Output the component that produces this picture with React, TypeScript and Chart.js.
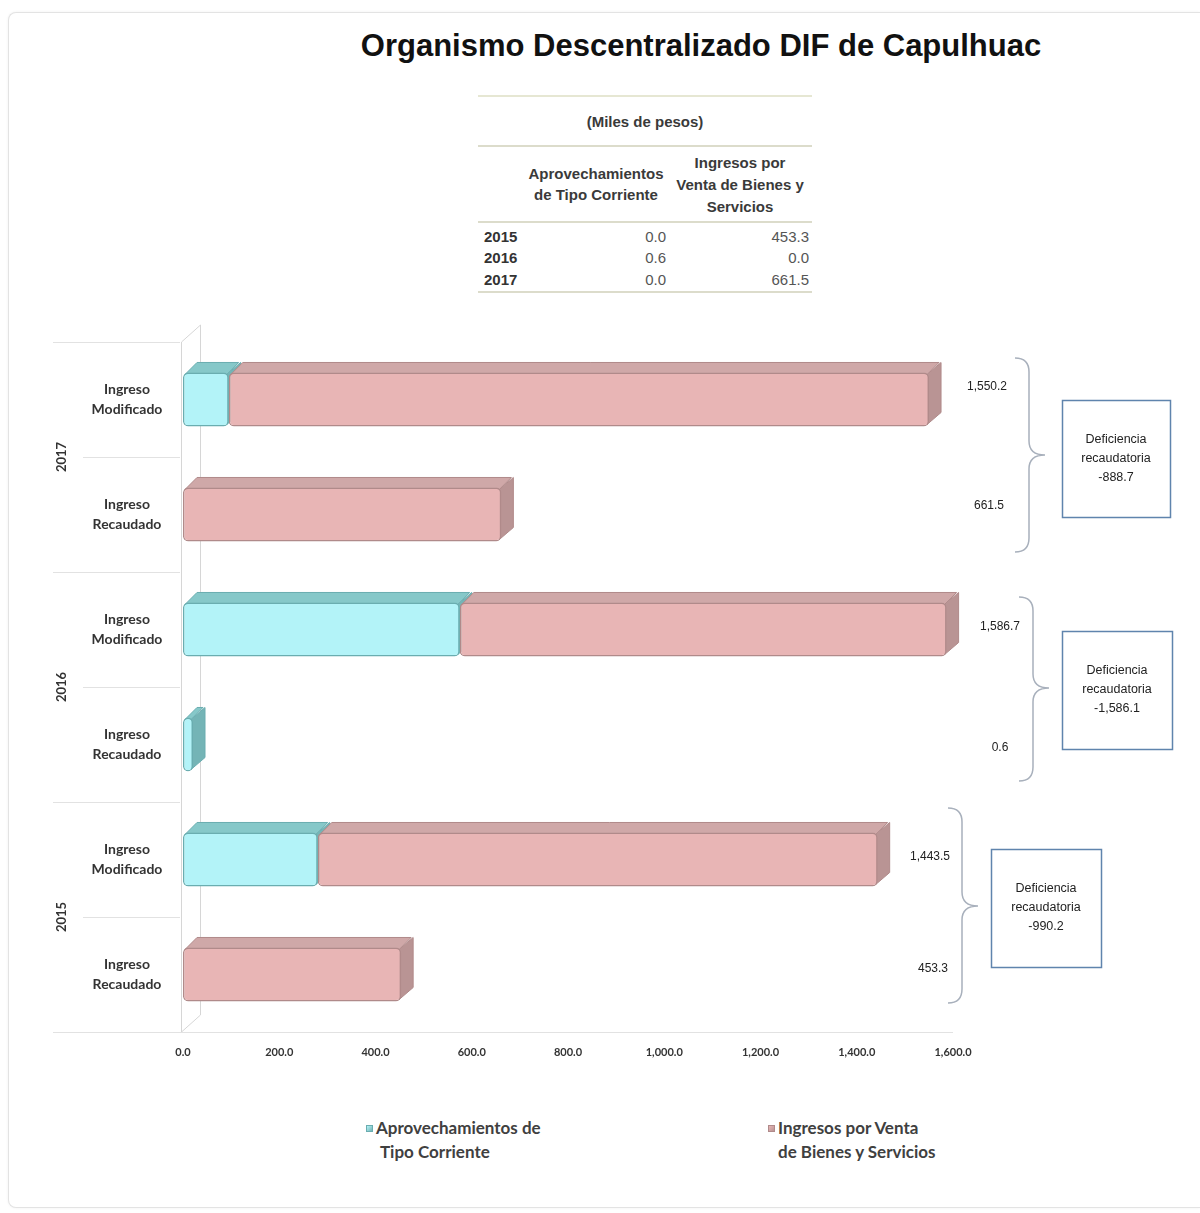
import React, { useEffect, useRef } from "react";
import { Chart, registerables } from "chart.js";
Chart.register(...registerables);

// ---------------- DATA ----------------
const titleText = "Organismo Descentralizado DIF de Capulhuac";
const years = ["2017", "2016", "2015"];
const categories = [
  ["Ingreso", "Modificado"],
  ["Ingreso", "Recaudado"],
  ["Ingreso", "Modificado"],
  ["Ingreso", "Recaudado"],
  ["Ingreso", "Modificado"],
  ["Ingreso", "Recaudado"],
];
const aprovechamientos = [95.0, 0.0, 575.0, 0.6, 280.0, 0.0];
const ingresosVenta = [1455.2, 661.5, 1011.7, 0.0, 1163.5, 453.3];
const xTicks = [0, 200, 400, 600, 800, 1000, 1200, 1400, 1600];
const seriesLabels = ["Aprovechamientos de Tipo Corriente", "Ingresos por Venta de Bienes y Servicios"];
const legendLines = [
  ["Aprovechamientos de", "Tipo Corriente"],
  ["Ingresos por Venta", "de Bienes y Servicios"],
];
const tableUnit = "(Miles de pesos)";
const tableHeaders = [
  ["Aprovechamientos", "de Tipo Corriente"],
  ["Ingresos por", "Venta de Bienes y", "Servicios"],
];
const tableYears = ["2015", "2016", "2017"];
const tableAprov = [0.0, 0.6, 0.0];
const tableIngresos = [453.3, 0.0, 661.5];
const boxTitle = ["Deficiencia", "recaudatoria"];

// ---------------- STYLE / LAYOUT ----------------
const CANVAS_TOP = 300;
const CANVAS_W = 1200;
const CANVAS_H = 800;
const cyan = { front: "#b3f3f8", border: "#6aadb0", top: "#86c8c9", side: "#74b4b6" };
const pink = { front: "#e8b5b5", border: "#b08a8a", top: "#cfa8a8", side: "#b99494" };
const faceColors = [cyan, pink];
const DX = 12;
const DY = 12;
// page positions for total labels (x, y)
const totalLabelPos = [
  [987, 387],
  [989, 506],
  [1000, 627],
  [1000, 748],
  [930, 857],
  [933, 969],
];
const braces = [
  { x: 1015, y0: 358, y1: 552, tip: 455 },
  { x: 1019, y0: 597, y1: 781, tip: 688 },
  { x: 948, y0: 808, y1: 1003, tip: 906 },
];
const boxes = [
  { x: 1062, y: 400, w: 108, h: 117 },
  { x: 1062, y: 631, w: 110, h: 118 },
  { x: 991, y: 849, w: 110, h: 118 },
];

const fmt1 = (v: number) =>
  v.toLocaleString("en-US", { minimumFractionDigits: 1, maximumFractionDigits: 1 });

const decorPlugin = {
  id: "decor",
  beforeDatasetsDraw(chart: any) {
    const ctx = chart.ctx;
    const { left, right, top, bottom } = chart.chartArea;
    const ys = chart.scales.y;
    const n = categories.length;
    const band = (bottom - top) / n;
    ctx.save();
    // 3D wall
    ctx.strokeStyle = "#d6d6d6";
    ctx.lineWidth = 1;
    ctx.beginPath();
    ctx.moveTo(left - 1.5, top);
    ctx.lineTo(left - 1.5, bottom);
    ctx.moveTo(left - 1.5, top);
    ctx.lineTo(left + 17.5, top - 17);
    ctx.lineTo(left + 17.5, bottom - 17);
    ctx.lineTo(left - 1.5, bottom);
    ctx.stroke();
    // category grid lines in label area
    ctx.strokeStyle = "#e2e2e2";
    for (let i = 0; i <= n; i++) {
      const y = Math.round(top + i * band) + 0.5;
      const x0 = i % 2 === 0 ? 53 : 83;
      const x1 = i === n ? right : left - 3;
      ctx.beginPath();
      ctx.moveTo(x0, y);
      ctx.lineTo(x1, y);
      ctx.stroke();
    }
    // category labels
    ctx.fillStyle = "#333333";
    ctx.font = "bold 14px Lato";
    ctx.textAlign = "center";
    ctx.textBaseline = "middle";
    categories.forEach((lab, i) => {
      const yc = ys.getPixelForValue(i);
      ctx.fillText(lab[0], 127, yc - 10);
      ctx.fillText(lab[1], 127, yc + 10);
    });
    // year labels
    ctx.font = "bold 13px Lato";
    years.forEach((yr, g) => {
      const yc = (ys.getPixelForValue(2 * g) + ys.getPixelForValue(2 * g + 1)) / 2;
      ctx.save();
      ctx.translate(62, yc);
      ctx.rotate(-Math.PI / 2);
      ctx.fillText(yr, 0, 0);
      ctx.restore();
    });
    // 3D faces (top + side)
    ctx.lineJoin = "round";
    chart.data.datasets.forEach((ds: any, di: number) => {
      const meta = chart.getDatasetMeta(di);
      const c = faceColors[di];
      meta.data.forEach((el: any, i: number) => {
        if (ds.data[i] == null) return;
        const { x, y, base, height } = el.getProps(["x", "y", "base", "height"], true);
        const t = y - height / 2;
        const b = y + height / 2;
        ctx.strokeStyle = c.border;
        ctx.lineWidth = 1;
        ctx.fillStyle = c.side;
        ctx.beginPath();
        ctx.moveTo(x - 2, t + 2);
        ctx.lineTo(x + DX, t - DY + 2);
        ctx.lineTo(x + DX, b - DY - 2);
        ctx.lineTo(x - 2, b - 2);
        ctx.closePath();
        ctx.fill();
        ctx.stroke();
        ctx.fillStyle = c.top;
        ctx.beginPath();
        ctx.moveTo(base + 2, t + 2);
        ctx.lineTo(x - 2, t + 2);
        ctx.lineTo(x + DX - 2, t - DY + 2);
        ctx.lineTo(base + DX + 2, t - DY + 2);
        ctx.closePath();
        ctx.fill();
        ctx.stroke();
      });
    });
    ctx.restore();
  },
  afterDatasetsDraw(chart: any) {
    const ctx = chart.ctx;
    ctx.save();
    // totals
    ctx.fillStyle = "#222222";
    ctx.font = "12px 'Liberation Sans'";
    ctx.textAlign = "center";
    ctx.textBaseline = "middle";
    const totals = aprovechamientos.map((a, i) => a + ingresosVenta[i]);
    totals.forEach((t, i) => {
      const [px, py] = totalLabelPos[i];
      ctx.fillText(fmt1(t), px, py - CANVAS_TOP);
    });
    // braces
    ctx.strokeStyle = "#a8b0bc";
    ctx.lineWidth = 1.5;
    braces.forEach((br) => {
      const x0 = br.x;
      const y0 = br.y0 - CANVAS_TOP;
      const y1 = br.y1 - CANVAS_TOP;
      const tp = br.tip - CANVAS_TOP;
      const r = 14;
      ctx.beginPath();
      ctx.moveTo(x0, y0);
      ctx.quadraticCurveTo(x0 + r, y0, x0 + r, y0 + r);
      ctx.lineTo(x0 + r, tp - r);
      ctx.quadraticCurveTo(x0 + r, tp, x0 + 2 * r + 2, tp);
      ctx.quadraticCurveTo(x0 + r, tp, x0 + r, tp + r);
      ctx.lineTo(x0 + r, y1 - r);
      ctx.quadraticCurveTo(x0 + r, y1, x0, y1);
      ctx.stroke();
    });
    // boxes
    ctx.strokeStyle = "#5f84ad";
    ctx.lineWidth = 1.5;
    ctx.font = "12.5px 'Liberation Sans'";
    boxes.forEach((bx, g) => {
      const y = bx.y - CANVAS_TOP;
      ctx.strokeRect(bx.x + 0.5, y + 0.5, bx.w, bx.h);
      const diff = totals[2 * g + 1] - totals[2 * g];
      const cx = bx.x + bx.w / 2;
      const cy = y + bx.h / 2;
      ctx.fillStyle = "#222222";
      ctx.fillText(boxTitle[0], cx, cy - 19);
      ctx.fillText(boxTitle[1], cx, cy);
      ctx.fillText(fmt1(diff), cx, cy + 19);
    });
    ctx.restore();
  },
};

function ChartCanvas() {
  const ref = useRef<HTMLCanvasElement | null>(null);
  useEffect(() => {
    if (!ref.current) return;
    const chart = new Chart(ref.current, {
      type: "bar",
      data: {
        labels: categories,
        datasets: [
          {
            label: seriesLabels[0],
            data: aprovechamientos.map((v) => (v === 0 ? null : v)),
            backgroundColor: cyan.front,
            borderColor: cyan.border,
            borderWidth: 1.5,
            borderSkipped: false,
            borderRadius: { topLeft: 5, topRight: 5, bottomLeft: 5, bottomRight: 5 },
            minBarLength: 10,
            barPercentage: 0.47,
            categoryPercentage: 1,
          },
          {
            label: seriesLabels[1],
            data: ingresosVenta.map((v) => (v === 0 ? null : v)),
            backgroundColor: pink.front,
            borderColor: pink.border,
            borderWidth: 1.5,
            borderSkipped: false,
            borderRadius: { topLeft: 5, topRight: 5, bottomLeft: 5, bottomRight: 5 },
            barPercentage: 0.47,
            categoryPercentage: 1,
          },
        ],
      } as any,
      options: {
        indexAxis: "y",
        responsive: false,
        animation: false,
        layout: { padding: { top: 42, right: 247, left: 0, bottom: 0 } },
        plugins: { legend: { display: false }, tooltip: { enabled: false } },
        scales: {
          x: {
            stacked: true,
            min: 0,
            max: 1600,
            afterBuildTicks: (s: any) => {
              s.ticks = xTicks.map((v) => ({ value: v }));
            },
            afterFit: (s: any) => {
              s.height = 68;
            },
            grid: { display: false },
            border: { display: false },
            ticks: {
              color: "#333333",
              font: { family: "Lato", weight: "bold", size: 11 },
              padding: 6,
              maxRotation: 0,
              autoSkip: false,
              callback: (v: any) => fmt1(Number(v)),
            },
          },
          y: {
            stacked: true,
            afterFit: (s: any) => {
              s.width = 183;
            },
            grid: { display: false },
            border: { display: false },
            ticks: { display: false },
          },
        },
      } as any,
      plugins: [decorPlugin],
    });
    return () => chart.destroy();
  }, []);
  return (
    <canvas
      ref={ref}
      width={CANVAS_W}
      height={CANVAS_H}
      style={{ position: "absolute", left: 0, top: CANVAS_TOP, width: CANVAS_W, height: CANVAS_H }}
    />
  );
}

const abs = (left: number, top: number, extra: any = {}) => ({
  position: "absolute" as const,
  left,
  top,
  ...extra,
});

export default function App() {
  const tf = "'Liberation Sans', Arial, sans-serif";
  const lineStyle = (y: number, color = "#dcdccb") =>
    abs(478, y - 1, { width: 334, height: 2, background: color });
  const textLine = (text: string, cx: number, cy: number, opts: any = {}) => (
    <div
      key={text + cx + cy}
      style={abs(cx - 100, cy - 10, {
        width: 200,
        lineHeight: "20px",
        height: 20,
        textAlign: "center",
        fontFamily: tf,
        fontSize: 15,
        color: "#3a3a3a",
        whiteSpace: "nowrap",
        ...opts,
      })}
    >
      {text}
    </div>
  );
  const rowYs = [237, 258, 280];
  return (
    <div style={abs(0, 0, { width: 1200, height: 1213, overflow: "hidden", background: "#ffffff" })}>
      <div
        style={abs(8, 12, {
          width: 1192,
          height: 1196,
          boxSizing: "border-box",
          border: "1px solid #e3e3e3",
          borderRight: "none",
          borderRadius: "8px 0 0 8px",
          boxShadow: "0 0 3px rgba(0,0,0,0.06)",
          background: "#ffffff",
        })}
      />
      <div
        style={abs(340, 26, {
          width: 722,
          textAlign: "center",
          lineHeight: "40px",
          fontFamily: tf,
          fontWeight: "bold",
          fontSize: 31,
          color: "#111111",
          whiteSpace: "nowrap",
        })}
      >
        {titleText}
      </div>
      {/* table */}
      <div style={lineStyle(96, "#e6e7d3")} />
      {textLine(tableUnit, 645, 122, { fontWeight: "bold" })}
      <div style={lineStyle(146)} />
      {tableHeaders[0].map((t, i) => textLine(t, 596, 174 + i * 21, { fontWeight: "bold" }))}
      {tableHeaders[1].map((t, i) => textLine(t, 740, 163 + i * 22, { fontWeight: "bold" }))}
      <div style={lineStyle(222)} />
      {tableYears.map((yr, i) => (
        <React.Fragment key={yr}>
          <div
            style={abs(484, rowYs[i] - 10, {
              lineHeight: "20px",
              fontFamily: tf,
              fontSize: 15,
              fontWeight: "bold",
              color: "#333333",
            })}
          >
            {yr}
          </div>
          <div
            style={abs(566, rowYs[i] - 10, {
              width: 100,
              textAlign: "right",
              lineHeight: "20px",
              fontFamily: tf,
              fontSize: 15,
              color: "#555555",
            })}
          >
            {fmt1(tableAprov[i])}
          </div>
          <div
            style={abs(709, rowYs[i] - 10, {
              width: 100,
              textAlign: "right",
              lineHeight: "20px",
              fontFamily: tf,
              fontSize: 15,
              color: "#555555",
            })}
          >
            {fmt1(tableIngresos[i])}
          </div>
        </React.Fragment>
      ))}
      <div style={lineStyle(292)} />
      <ChartCanvas />
      {/* legend */}
      {legendLines.map((lines, i) => {
        const mx = i === 0 ? 366 : 768;
        const c = faceColors[i];
        return (
          <React.Fragment key={i}>
            <div
              style={abs(mx, 1125, {
                width: 7,
                height: 7,
                background: `linear-gradient(135deg, ${c.front}, ${c.side})`,
                border: `1px solid ${c.border}`,
                boxSizing: "border-box",
              })}
            />
            <div
              style={abs(mx + 10, 1116, {
                lineHeight: "24px",
                fontFamily: "Lato, sans-serif",
                fontWeight: "bold",
                fontSize: 17,
                color: "#404040",
                whiteSpace: "nowrap",
              })}
            >
              <div>{lines[0]}</div>
              <div style={{ paddingLeft: i === 0 ? 4 : 0 }}>{lines[1]}</div>
            </div>
          </React.Fragment>
        );
      })}
    </div>
  );
}
